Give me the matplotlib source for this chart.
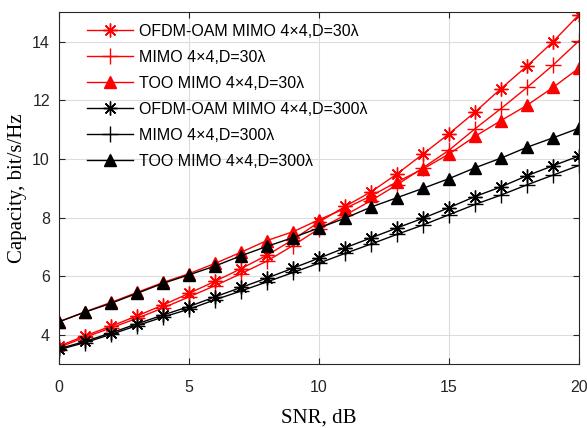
import matplotlib
matplotlib.use("Agg")
import matplotlib.pyplot as plt

snr_db = list(range(0, 21))

# Capacity, bit/s/Hz — D = 30 lambda
oam_30 = [3.62, 3.97, 4.30, 4.65, 5.02, 5.42, 5.83, 6.26, 6.72, 7.25, 7.85,
          8.38, 8.88, 9.49, 10.17, 10.86, 11.60, 12.40, 13.17, 14.00, 14.92]
mimo_30 = [3.58, 3.92, 4.24, 4.57, 4.92, 5.30, 5.68, 6.09, 6.52, 7.05, 7.62,
           8.08, 8.58, 9.12, 9.70, 10.30, 11.03, 11.72, 12.44, 13.20, 14.03]
too_30 = [4.45, 4.79, 5.11, 5.45, 5.79, 6.09, 6.44, 6.82, 7.22, 7.52, 7.93,
          8.31, 8.74, 9.22, 9.66, 10.17, 10.77, 11.31, 11.83, 12.44, 13.10]

# Capacity, bit/s/Hz — D = 300 lambda
oam_300 = [3.53, 3.78, 4.07, 4.38, 4.68, 4.97, 5.30, 5.62, 5.94, 6.28, 6.62,
           6.97, 7.31, 7.65, 7.98, 8.34, 8.72, 9.05, 9.43, 9.77, 10.10]
mimo_300 = [3.50, 3.74, 4.02, 4.32, 4.61, 4.88, 5.20, 5.50, 5.81, 6.13, 6.45,
            6.78, 7.10, 7.43, 7.75, 8.10, 8.45, 8.77, 9.12, 9.45, 9.78]
too_300 = [4.45, 4.78, 5.08, 5.42, 5.76, 6.05, 6.35, 6.70, 7.02, 7.32, 7.65,
           7.98, 8.36, 8.68, 9.00, 9.33, 9.70, 10.03, 10.40, 10.72, 11.05]

labels = [
    "OFDM-OAM MIMO 4\u00d74,D=30\u03bb",
    "MIMO 4\u00d74,D=30\u03bb",
    "TOO MIMO 4\u00d74,D=30\u03bb",
    "OFDM-OAM MIMO 4\u00d74,D=300\u03bb",
    "MIMO 4\u00d74,D=300\u03bb",
    "TOO MIMO 4\u00d74,D=300\u03bb",
]

x_ticks = [0, 5, 10, 15, 20]
y_ticks = [4, 6, 8, 10, 12, 14]

plt.rcParams["font.family"] = ["Liberation Sans", "DejaVu Sans"]

fig = plt.figure(figsize=(5.87, 4.28), dpi=100)
ax = fig.add_axes([0.1005, 0.1488, 0.886, 0.8225])

asterisk = (8, 2, 0)
series = [
    (oam_30, "red", asterisk, 10),
    (mimo_30, "red", "+", 11),
    (too_30, "red", "^", 9),
    (oam_300, "black", asterisk, 10),
    (mimo_300, "black", "+", 11),
    (too_300, "black", "^", 9),
]
for (vals, col, mk, ms), lab in zip(series, labels):
    filled = mk == "^"
    ax.plot(snr_db, vals, color=col, lw=1.0, marker=mk, markersize=ms,
            markeredgewidth=1.0,
            markerfacecolor=col if filled else "none",
            markeredgecolor=col, label=lab)

ax.set_xlim(0, 20)
ax.set_ylim(3, 15)
ax.set_xticks(x_ticks)
ax.set_yticks(y_ticks)
ax.grid(True, color="#dcdcdc", lw=0.8)
ax.set_axisbelow(True)
ax.tick_params(direction="in", top=True, right=True, length=4,
               labelsize=11.5, colors="#262626")
ax.tick_params(axis="x", pad=11)
ax.tick_params(axis="y", pad=6.5)
for s in ax.spines.values():
    s.set_color("#262626")
    s.set_linewidth(0.8)

ax.set_xlabel("SNR, dB", family="Liberation Serif", fontsize=15, labelpad=10)
ax.set_ylabel("Capacity, bit/s/Hz", family="Liberation Serif", fontsize=15,
              labelpad=4)

ax.legend(loc="upper left", bbox_to_anchor=(0.054, 0.967), frameon=False,
          fontsize=11.5, handlelength=2.9, handletextpad=0.33,
          labelspacing=0.69, borderpad=0, borderaxespad=0)

fig.savefig("out.png", dpi=100)
